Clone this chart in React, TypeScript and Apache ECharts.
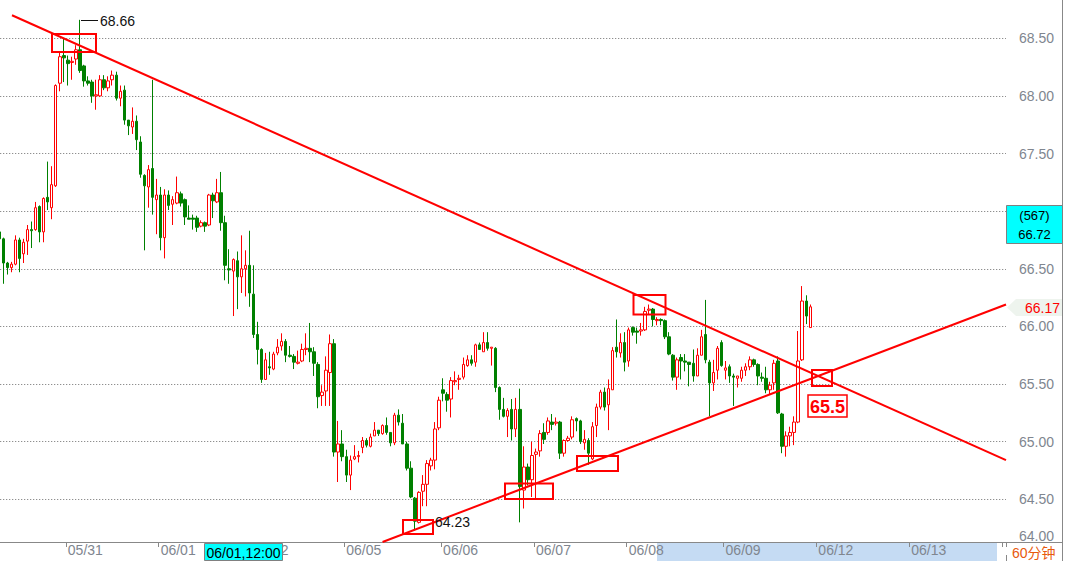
import React, { useEffect, useRef } from 'react';
import * as echarts from 'echarts';

// ---- data -------------------------------------------------------------
// x axis: hourly bars; dates mark the first bar of each trading day
const DAY_LABELS = ['05/31', '06/01', '06/02', '06/05', '06/06', '06/07', '06/08', '06/09', '06/12', '06/13'];
const DAY_START = [17, 40, 63, 86, 110, 133, 156, 180, 203, 226];
const EXTRA_TICKS = [249];
const CATEGORY_COUNT = 250;

// y axis ticks
const Y_MIN = 64.0;
const Y_MAX = 68.832;
const Y_STEP = 0.5;

// hourly bars: [open, close, low, high]
const BARS: number[][] = [
  [66.82, 66.76, 66.72, 66.85], [66.76, 66.55, 66.37, 66.77], [66.55, 66.51, 66.45, 66.56], [66.51, 66.54, 66.47, 66.56],
  [66.54, 66.75, 66.53, 66.79], [66.75, 66.59, 66.47, 66.77], [66.63, 66.73, 66.55, 66.76], [66.74, 66.84, 66.62, 66.88],
  [66.84, 66.83, 66.68, 66.91], [66.84, 67.03, 66.83, 67.08], [67.04, 66.82, 66.73, 67.05], [66.82, 67.11, 66.73, 67.12],
  [67.12, 67.08, 67.01, 67.43], [67.03, 67.23, 66.93, 67.39], [67.22, 68.09, 67.21, 68.10], [68.11, 68.34, 68.04, 68.38],
  [68.35, 68.33, 68.12, 68.50], [68.31, 68.28, 68.09, 68.35], [68.29, 68.30, 68.14, 68.34], [68.32, 68.40, 68.27, 68.44],
  [68.40, 68.22, 68.20, 68.66], [68.26, 68.13, 68.08, 68.27], [68.13, 68.11, 68.09, 68.17], [68.12, 68.00, 67.94, 68.14],
  [68.00, 68.01, 67.88, 68.14], [68.00, 68.14, 67.99, 68.18], [68.14, 68.07, 68.05, 68.18], [68.07, 68.13, 68.04, 68.17],
  [68.14, 68.18, 68.09, 68.22], [68.18, 67.98, 67.96, 68.21], [67.98, 68.04, 67.91, 68.09], [68.05, 67.79, 67.75, 68.09],
  [67.79, 67.74, 67.66, 67.79], [67.73, 67.78, 67.67, 67.90], [67.78, 67.62, 67.53, 67.83], [67.60, 67.32, 67.29, 67.65],
  [67.31, 67.22, 66.66, 67.32], [67.21, 67.36, 67.03, 67.40], [67.37, 67.12, 66.97, 68.14], [67.10, 67.14, 66.80, 67.28],
  [67.14, 66.77, 66.66, 67.21], [66.77, 67.14, 66.59, 67.19], [67.14, 67.05, 67.01, 67.18], [67.06, 67.10, 66.88, 67.13],
  [67.07, 67.16, 67.06, 67.30], [67.15, 67.07, 67.04, 67.17], [67.10, 66.95, 66.88, 67.11], [66.94, 66.93, 66.93, 67.05],
  [66.94, 66.93, 66.84, 66.97], [66.94, 66.86, 66.82, 66.96], [66.87, 66.90, 66.86, 66.92], [66.90, 66.87, 66.82, 66.91],
  [66.88, 67.14, 66.87, 67.15], [67.14, 67.09, 66.94, 67.16], [67.08, 67.16, 67.07, 67.28], [67.16, 66.90, 66.83, 67.34],
  [66.90, 66.53, 66.40, 66.96], [66.50, 66.49, 66.37, 66.67], [66.48, 66.58, 66.09, 66.59], [66.57, 66.43, 66.15, 66.65],
  [66.43, 66.50, 66.29, 66.79], [66.50, 66.53, 66.26, 66.66], [66.53, 66.29, 66.17, 66.83], [66.28, 65.93, 65.90, 66.53],
  [65.93, 65.80, 65.67, 66.04], [65.80, 65.54, 65.51, 65.81], [65.54, 65.71, 65.54, 65.77], [65.65, 65.64, 65.58, 65.78],
  [65.63, 65.76, 65.62, 65.78], [65.77, 65.82, 65.75, 65.89], [65.83, 65.87, 65.79, 65.94], [65.87, 65.75, 65.69, 65.89],
  [65.75, 65.74, 65.73, 65.83], [65.74, 65.69, 65.63, 65.76], [65.68, 65.69, 65.67, 65.79], [65.70, 65.80, 65.69, 65.85],
  [65.80, 65.81, 65.75, 65.94], [65.81, 65.78, 65.69, 66.03], [65.78, 65.68, 65.57, 65.82], [65.67, 65.39, 65.29, 65.69],
  [65.40, 65.43, 65.31, 65.49], [65.44, 65.62, 65.31, 65.74], [65.60, 65.85, 65.31, 65.93], [65.85, 64.91, 64.87, 65.89],
  [64.91, 64.98, 64.65, 65.18], [64.98, 64.87, 64.83, 65.10], [64.87, 64.71, 64.65, 64.93], [64.71, 64.84, 64.58, 64.88],
  [64.85, 64.87, 64.84, 64.97], [64.87, 64.88, 64.82, 64.92], [64.95, 65.01, 64.90, 65.04], [65.01, 64.97, 64.95, 65.03],
  [64.96, 65.04, 64.95, 65.07], [65.05, 65.10, 65.05, 65.17], [65.10, 65.07, 65.05, 65.10], [65.07, 65.14, 65.06, 65.15],
  [65.14, 65.08, 65.06, 65.21], [65.08, 64.99, 64.96, 65.08], [64.99, 65.23, 64.97, 65.25], [65.23, 65.17, 65.14, 65.28],
  [65.16, 64.98, 64.98, 65.24], [64.98, 64.77, 64.75, 65.00], [64.77, 64.52, 64.51, 64.83], [64.51, 64.31, 64.23, 64.52],
  [64.30, 64.56, 64.29, 64.57], [64.57, 64.63, 64.44, 64.71], [64.63, 64.81, 64.44, 64.84], [64.79, 64.84, 64.75, 64.86],
  [64.84, 65.11, 64.76, 65.17], [65.12, 65.36, 65.10, 65.39], [65.45, 65.42, 65.35, 65.55], [65.41, 65.36, 65.26, 65.43],
  [65.37, 65.53, 65.21, 65.56], [65.52, 65.53, 65.49, 65.61], [65.54, 65.55, 65.45, 65.58], [65.56, 65.67, 65.54, 65.73],
  [65.66, 65.71, 65.65, 65.75], [65.71, 65.68, 65.66, 65.75], [65.69, 65.84, 65.65, 65.85], [65.84, 65.80, 65.80, 65.86],
  [65.78, 65.86, 65.78, 65.95], [65.86, 65.81, 65.79, 65.95], [65.81, 65.82, 65.66, 65.82], [65.81, 65.47, 65.43, 65.82],
  [65.47, 65.28, 65.19, 65.48], [65.28, 65.22, 65.21, 65.38], [65.22, 65.27, 65.04, 65.29], [65.28, 65.11, 65.01, 65.37],
  [65.11, 65.28, 65.04, 65.38], [65.28, 64.61, 64.30, 65.46], [64.58, 64.78, 64.42, 64.96], [64.78, 64.67, 64.62, 64.81],
  [64.67, 64.88, 64.52, 65.00], [64.89, 64.91, 64.51, 64.94], [64.92, 65.07, 64.87, 65.10], [65.08, 65.02, 64.98, 65.16],
  [65.08, 65.18, 65.06, 65.21], [65.17, 65.15, 65.10, 65.24], [65.16, 65.17, 65.14, 65.21], [65.17, 64.90, 64.85, 65.18],
  [64.90, 65.01, 64.87, 65.02], [65.01, 65.03, 65.00, 65.05], [65.04, 65.19, 65.02, 65.22], [65.20, 65.18, 65.09, 65.21],
  [65.18, 65.00, 64.98, 65.19], [64.99, 65.02, 64.93, 65.10], [65.01, 64.90, 64.80, 65.03], [64.85, 65.13, 64.84, 65.17],
  [65.14, 65.30, 65.04, 65.33], [65.30, 65.43, 65.28, 65.45], [65.43, 65.30, 65.27, 65.47], [65.32, 65.46, 65.10, 65.54],
  [65.45, 65.79, 65.45, 65.82], [65.82, 65.78, 65.73, 66.06], [65.77, 65.86, 65.73, 65.94], [65.86, 65.69, 65.61, 65.95],
  [65.70, 65.97, 65.65, 65.99], [65.99, 65.95, 65.92, 66.00], [65.96, 65.95, 65.85, 65.99], [65.96, 65.97, 65.92, 66.03],
  [65.97, 66.13, 65.96, 66.17], [66.14, 66.15, 66.10, 66.19], [66.15, 66.06, 66.00, 66.16], [66.05, 66.06, 66.01, 66.08],
  [66.06, 66.05, 66.01, 66.07], [66.05, 65.91, 65.89, 66.06], [65.91, 65.76, 65.75, 65.95], [65.75, 65.56, 65.53, 65.76],
  [65.56, 65.71, 65.45, 65.73], [65.73, 65.70, 65.54, 65.76], [65.70, 65.69, 65.61, 65.76], [65.69, 65.67, 65.48, 65.69],
  [65.68, 65.57, 65.52, 65.80], [65.57, 65.75, 65.57, 65.81], [65.75, 65.91, 65.75, 65.97], [65.93, 65.71, 65.68, 66.23],
  [65.69, 65.51, 65.22, 65.71], [65.51, 65.60, 65.44, 65.71], [65.62, 65.81, 65.54, 65.83], [65.86, 65.66, 65.65, 65.88],
  [65.62, 65.64, 65.54, 65.70], [65.65, 65.57, 65.51, 65.67], [65.57, 65.56, 65.31, 65.59], [65.55, 65.57, 65.47, 65.57],
  [65.55, 65.62, 65.52, 65.65], [65.62, 65.65, 65.57, 65.68], [65.65, 65.71, 65.62, 65.74], [65.71, 65.67, 65.65, 65.72],
  [65.67, 65.57, 65.49, 65.68], [65.56, 65.55, 65.52, 65.60], [65.55, 65.45, 65.42, 65.65], [65.45, 65.49, 65.41, 65.52],
  [65.51, 65.68, 65.45, 65.71], [65.70, 65.25, 65.24, 65.74], [65.24, 64.96, 64.90, 65.25], [64.96, 65.05, 64.87, 65.09],
  [65.05, 65.08, 64.96, 65.13], [65.08, 65.17, 64.97, 65.22], [65.17, 65.70, 65.16, 65.96], [65.71, 66.22, 65.70, 66.35],
  [66.22, 66.09, 66.02, 66.27], [65.99, 66.17, 65.99, 66.19],
];

// trend lines: [bar position, price]
const TREND_DOWN = [[3.16, 68.70], [249.5, 64.84]];
const TREND_UP = [[95.0, 64.13], [249.5, 66.19]];

// annotation texts
const HIGH_LABEL = '68.66';
const LOW_LABEL = '64.23';
const CROSS_LABEL = '65.5';
const LAST_PRICE = '66.17';
const CURSOR_COUNT = '(567)';
const CURSOR_PRICE = '66.72';
const CURSOR_TIME = '06/01,12:00';
const PERIOD = '60分钟';

const FONT = '"Liberation Sans", Arial, "Noto Sans CJK SC", sans-serif';
const GRAY = '#80868f';

export default function App() {
  const ref = useRef<HTMLDivElement>(null);

  useEffect(() => {
    const chart = echarts.init(ref.current as HTMLDivElement, null, { renderer: 'svg' });
    const categories = Array.from({ length: CATEGORY_COUNT }, (_, i) => {
      const k = DAY_START.indexOf(i);
      return k >= 0 ? DAY_LABELS[k] : 'b' + i;
    });
    const labelSet = new Set(DAY_START);
    const tickSet = new Set([...DAY_START, ...EXTRA_TICKS]);

    const redBox = (x: number, y: number, w: number, h: number) => ({
      type: 'rect',
      z: 100,
      shape: { x, y, width: w, height: h },
      style: { fill: 'transparent', stroke: '#ff0000', lineWidth: 2 },
    });
    const txt = (text: string, x: number, y: number, opts: any = {}) => ({
      type: 'text',
      z: 101,
      style: {
        text,
        x,
        y,
        font: opts.font || `14px ${FONT}`,
        fill: opts.fill || '#111',
        align: opts.align || 'left',
        verticalAlign: 'middle',
      },
    });

    chart.setOption({
      animation: false,
      backgroundColor: '#ffffff',
      grid: {
        left: -2.78,
        right: 59,
        top: 0,
        bottom: 4.07,
        containLabel: false,
        outerBoundsMode: 'none',
      },
      xAxis: [
        {
          type: 'category',
          data: categories,
          boundaryGap: true,
          offset: -14.93,
          axisLine: { show: true, lineStyle: { color: '#888888', width: 1 } },
          axisTick: {
            show: true,
            length: 5,
            interval: (i: number) => tickSet.has(i),
            lineStyle: { color: '#888888' },
          },
          axisLabel: {
            show: true,
            interval: (i: number) => labelSet.has(i),
            align: 'left',
            margin: 1,
            color: GRAY,
            fontSize: 14,
            fontFamily: FONT,
          },
          splitLine: { show: false },
        },
        {
          type: 'value',
          min: -0.5,
          max: CATEGORY_COUNT - 0.5,
          show: false,
        },
      ],
      yAxis: {
        type: 'value',
        position: 'right',
        min: Y_MIN,
        max: Y_MAX,
        interval: Y_STEP,
        axisLine: { show: true, lineStyle: { color: '#888888' } },
        axisTick: { show: false },
        axisLabel: {
          color: GRAY,
          fontSize: 14,
          fontFamily: FONT,
          margin: 13,
          showMinLabel: false,
          showMaxLabel: false,
          formatter: (v: number) => v.toFixed(2),
        },
        splitLine: {
          show: true,
          showMinLine: false,
          showMaxLine: false,
          lineStyle: { color: '#707070', type: [1, 2], width: 1 },
        },
      },
      series: [
        {
          type: 'candlestick',
          xAxisIndex: 0,
          yAxisIndex: 0,
          data: BARS,
          barWidth: 3,
          itemStyle: {
            color: '#ffffff',
            color0: '#008000',
            borderColor: '#ff0000',
            borderColor0: '#008000',
            borderWidth: 1,
          },
        },
        {
          type: 'line',
          xAxisIndex: 1,
          yAxisIndex: 0,
          data: TREND_DOWN,
          symbol: 'none',
          lineStyle: { color: '#ff0000', width: 2 },
          z: 5,
        },
        {
          type: 'line',
          xAxisIndex: 1,
          yAxisIndex: 0,
          data: TREND_UP,
          symbol: 'none',
          lineStyle: { color: '#ff0000', width: 2 },
          z: 5,
        },
      ],
      graphic: [
        // bottom time band
        { type: 'rect', z: -10, shape: { x: 657, y: 543, width: 340, height: 18 }, style: { fill: '#c5dbf3' } },
        { type: 'rect', z: 100, shape: { x: 204.5, y: 543.5, width: 78, height: 17 }, style: { fill: '#00ffff', stroke: '#808080', lineWidth: 1 } },
        txt(CURSOR_TIME, 243.5, 552.5, { align: 'center', fill: '#000' }),
        // right panel lines
        { type: 'line', z: 50, shape: { x1: 1062.5, y1: 0, x2: 1062.5, y2: 561 }, style: { stroke: '#888888', lineWidth: 1 } },
        { type: 'line', z: 50, shape: { x1: 1006, y1: 542.5, x2: 1063, y2: 542.5 }, style: { stroke: '#888888', lineWidth: 1 } },
        { type: 'line', z: 50, shape: { x1: 1006.5, y1: 555, x2: 1006.5, y2: 561 }, style: { stroke: '#888888', lineWidth: 1 } },
        txt('64.00', 1019, 536, { fill: GRAY }),
        txt(PERIOD, 1012, 553, { fill: '#e8590c' }),
        // cursor price box
        { type: 'rect', z: 100, shape: { x: 1006.5, y: 205.5, width: 56, height: 38 }, style: { fill: '#00ffff', stroke: '#808080', lineWidth: 1 } },
        txt(CURSOR_COUNT, 1034.5, 215, { align: 'center', fill: '#000', font: `13px ${FONT}` }),
        txt(CURSOR_PRICE, 1034.5, 234, { align: 'center', fill: '#000', font: `13px ${FONT}` }),
        // last price tag
        {
          type: 'polygon',
          z: 100,
          shape: { points: [[1007, 307.5], [1016, 299], [1062, 299], [1062, 316], [1016, 316]] },
          style: { fill: '#eef4ee' },
        },
        txt(LAST_PRICE, 1060, 307.5, { align: 'right', fill: '#ff0000' }),
        // annotations
        redBox(52, 34, 44, 18),
        redBox(633.5, 295, 32, 19.5),
        redBox(577, 456, 41, 15),
        redBox(505, 483.5, 48, 15.5),
        redBox(403, 520, 30, 14),
        redBox(812, 370, 20, 16),
        { type: 'line', z: 100, shape: { x1: 81, y1: 20.5, x2: 98, y2: 20.5 }, style: { stroke: '#111', lineWidth: 1 } },
        txt(HIGH_LABEL, 100, 21),
        txt(LOW_LABEL, 435, 522),
        { type: 'rect', z: 100, shape: { x: 808, y: 395, width: 39, height: 22 }, style: { fill: '#ffffff', stroke: '#ff0000', lineWidth: 1.5 } },
        txt(CROSS_LABEL, 827.5, 406.5, { align: 'center', fill: '#ff0000', font: `bold 18px ${FONT}` }),
      ],
    });
    return () => chart.dispose();
  }, []);

  return (
    <div
      ref={ref}
      style={{ position: 'fixed', left: 0, top: 0, width: 1065, height: 561, background: '#ffffff' }}
    />
  );
}
